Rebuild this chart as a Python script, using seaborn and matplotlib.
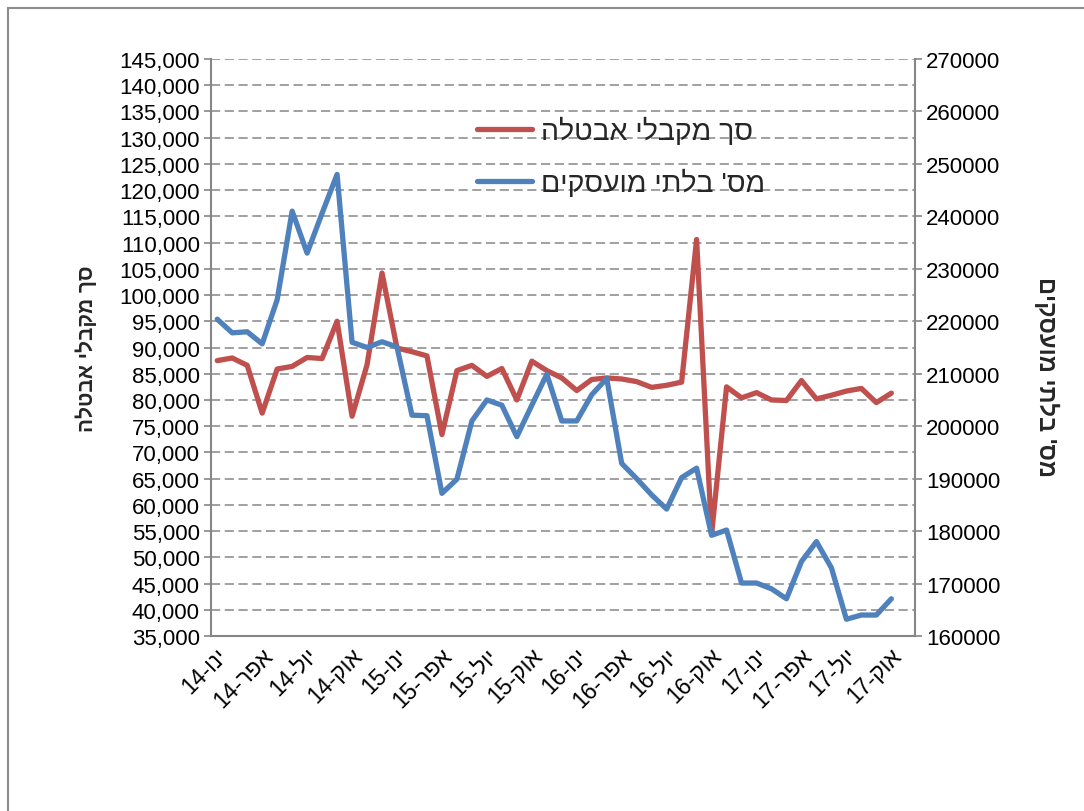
import re

import matplotlib
matplotlib.use("Agg")
import matplotlib.pyplot as plt
import matplotlib.transforms as mtransforms
import pandas as pd
import seaborn as sns
from matplotlib.patches import Rectangle
from matplotlib.ticker import FuncFormatter, MultipleLocator

# Monthly data, Jan 2014 - Oct 2017
month_names = ["ינו", "פבר", "מרץ", "אפר", "מאי", "יונ", "יול", "אוג", "ספט", "אוק", "נוב", "דצמ"]
start_year = 14
n_months = 46

benefit_recipients = [
    87500, 88000, 86600, 77500, 85900, 86400, 88100, 87900, 95000, 76900, 86700, 104200,
    89900, 89200, 88400, 73400, 85600, 86600, 84500, 86000, 80000, 87400, 85600, 84200,
    81800, 83900, 84200, 84000, 83500, 82400, 82800, 83400, 110600, 54400, 82500, 80400,
    81400, 80000, 79900, 83700, 80200, 80900, 81700, 82200, 79500, 81300,
]
unemployed = [
    220400, 217800, 218000, 215700, 224100, 241000, 233000, 240600, 248000, 216000, 215000, 216100,
    215100, 202100, 202000, 187200, 189900, 201000, 205000, 204000, 198000, 204000, 209900, 201000,
    201000, 206000, 209100, 192900, 190000, 186900, 184200, 190200, 192000, 179200, 180200, 170100,
    170100, 169000, 167100, 174200, 178000, 173000, 163200, 164000, 164000, 167100,
]

label_recipients = "סך מקבלי אבטלה"
label_unemployed = "מס' בלתי מועסקים"

RED = "#C0504D"
BLUE = "#4F81BD"
GREY = "#868686"


def visual(text):
    # matplotlib does no bidi layout, so lay the Hebrew out right-to-left by hand
    out = text[::-1]
    return re.sub(r"\d+", lambda m: m.group(0)[::-1], out)


sns.set_style("white")
plt.rcParams["font.family"] = ["Liberation Sans", "DejaVu Sans"]

df = pd.DataFrame({
    "pos": [i + 0.42 for i in range(n_months)],
    "recipients": benefit_recipients,
    "unemployed": unemployed,
})

fig = plt.figure(figsize=(10.84, 8.12), dpi=100)
ax = fig.add_axes([0.1946, 0.2155, 0.6495, 0.7106])
ax2 = ax.twinx()

sns.lineplot(data=df, x="pos", y="recipients", ax=ax, color=RED, lw=3.8,
             solid_capstyle="round", solid_joinstyle="round", label=visual(label_recipients), legend=False)
sns.lineplot(data=df, x="pos", y="unemployed", ax=ax2, color=BLUE, lw=3.8,
             solid_capstyle="round", solid_joinstyle="round", label=visual(label_unemployed), legend=False)

ax.set_xlim(0, 47)
ax.set_ylim(35000, 145000)
ax2.set_ylim(160000, 270000)
ax.yaxis.set_major_locator(MultipleLocator(5000))
ax2.yaxis.set_major_locator(MultipleLocator(10000))
ax.yaxis.set_major_formatter(FuncFormatter(lambda v, p: f"{v:,.0f}"))
ax2.yaxis.set_major_formatter(FuncFormatter(lambda v, p: f"{v:.0f}"))

ax.grid(False)
ax2.grid(False)
ax.yaxis.grid(True, color=GREY, linestyle=(0, (6, 3)), lw=1.1)

for a in (ax, ax2):
    a.spines["top"].set_visible(False)
    for side in ("left", "right", "bottom"):
        a.spines[side].set_color(GREY)
        a.spines[side].set_linewidth(1.5)
    a.tick_params(direction="out", length=5, width=1.2, color=GREY, labelsize=16, labelcolor="black", pad=3)
ax.tick_params(axis="x", pad=6, labelsize=16.5)
ax.spines["right"].set_visible(False)
ax2.spines["left"].set_visible(False)
ax2.spines["bottom"].set_visible(False)

# x tick labels: every third month, rotated like Excel
tick_pos = list(range(0, n_months, 3))
tick_labels = [visual(f"{month_names[i % 12]}-{start_year + i // 12}") for i in tick_pos]
ax.set_xticks(tick_pos)
ax.set_xticklabels(tick_labels, rotation=45, ha="right", rotation_mode="anchor", va="center")
shift = mtransforms.ScaledTranslation(9.5 / 72, 0, fig.dpi_scale_trans)
for lbl in ax.get_xticklabels():
    lbl.set_transform(lbl.get_transform() + shift)

ax.set_xlabel("")
ax.set_ylabel(visual(label_recipients), fontsize=15, fontweight="bold", labelpad=16)
ax2.set_ylabel(visual(label_unemployed), fontsize=17, fontweight="bold", rotation=270, labelpad=42)
ax2.yaxis.label.set_y(0.45)

handles = ax.get_lines()[:1] + ax2.get_lines()[:1]
ax2.legend(handles=handles, labels=[h.get_label() for h in handles], loc="upper left",
           bbox_to_anchor=(0.357, 0.925), frameon=False, fontsize=20.5, handlelength=1.95,
           handletextpad=0.3, labelspacing=0.85, borderpad=0)

fig.patches.append(Rectangle((7.5 / 1084, -0.1), 1.2, 1.1 - 8.5 / 812, transform=fig.transFigure,
                             fill=False, edgecolor="#8C8C8C", lw=1.5, clip_on=False))

fig.savefig("out.png", dpi=100)
